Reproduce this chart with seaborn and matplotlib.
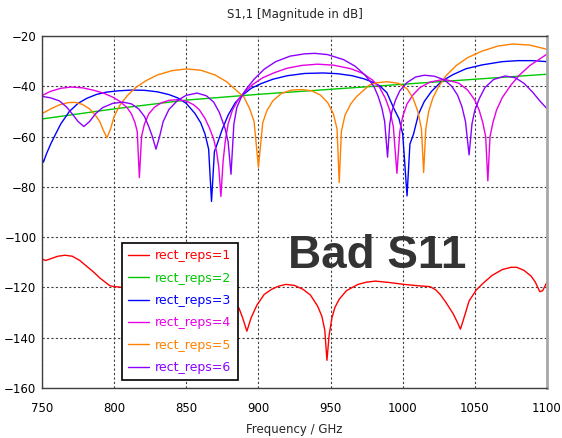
import pandas as pd
import seaborn as sns
import matplotlib.pyplot as plt

# frequency (GHz) / S11 (dB)
f_reps1 = [750, 752.5, 756, 761, 766, 771, 776, 781, 786, 790, 794, 797, 800, 803,
           810, 820, 830, 840, 850, 860, 870, 877, 882, 886.5, 889, 892, 895, 899,
           904, 909, 914, 919, 925, 931, 936, 941, 944, 946, 947.5, 949, 951, 953,
           956, 961, 969, 975, 981, 990, 1001, 1010, 1019, 1023, 1026, 1030, 1035,
           1038, 1040, 1042, 1046, 1051, 1056, 1062, 1069, 1075, 1079, 1084, 1089,
           1092, 1095, 1097, 1100]
s_reps1 = [-108.7, -109.3, -108.6, -107.6, -107.2, -107.6, -109.2, -111.6, -114, -116.2,
           -118, -119.3, -119.7, -119.8, -120.5, -119, -118, -118.5, -119.5, -121,
           -123.5, -125, -126.5, -128.2, -132, -137.4, -132, -127, -122.8, -120.8,
           -119.5, -118.8, -119.2, -120.8, -123, -127.4, -131.5, -137, -149, -139,
           -132, -128, -124.7, -121.3, -118.8, -117.9, -117.5, -118, -118.8, -119.3,
           -119.7, -121, -122.8, -126, -130.5, -134, -136.6, -133, -125.4, -121,
           -118.2, -115.2, -112.9, -112, -112, -113.2, -115.5, -118, -121.7, -121.3,
           -117.9]

f_reps2 = [750, 800, 850, 900, 950, 1000, 1050, 1100]
s_reps2 = [-53, -49, -45.5, -43.2, -41.2, -39.2, -37.2, -35.2]

f_reps3 = [750, 751, 753, 756, 759, 763, 769, 775, 781, 788, 795, 803, 812, 821, 830,
           838, 844, 850, 856, 860, 863, 865.5, 867.5, 869.5, 872, 875, 879, 884, 889,
           895, 902, 910, 920, 932, 945, 955, 965, 973, 979, 984, 989, 994, 997.5,
           1000, 1003, 1005, 1007.5, 1011, 1015, 1020, 1027, 1035, 1044, 1055, 1069,
           1080, 1090, 1100]
s_reps3 = [-68.6, -70.2, -67, -63, -59.5, -55, -50, -46.8, -44.8, -43.2, -42.3, -41.8,
           -41.5, -41.6, -42.2, -43.3, -44.6, -46.8, -50.8, -54.5, -59, -65, -85.8, -66,
           -62, -57, -51.5, -46.5, -43.5, -40.8, -38.9, -37.2, -35.8, -34.9, -34.7, -35,
           -35.8, -37, -38.3, -39.8, -42.5, -49, -53, -59, -83.6, -63, -59, -51, -46,
           -42, -38, -35.3, -33, -31.5, -30.2, -29.8, -29.8, -30.2]

f_reps4 = [750, 756, 763, 770, 778, 786, 793, 799, 804, 809, 812, 814.5, 816, 817.5,
           819, 821, 824, 828, 833, 838, 844, 850, 855, 859, 863, 866, 869, 871, 872.5,
           874, 875.5, 877, 879, 882, 886, 890, 896, 903, 911, 920, 930, 941, 952, 964,
           972, 979, 984, 988, 991, 993.5, 996, 998, 1000, 1003, 1007, 1012, 1019, 1029,
           1039, 1045, 1050, 1053, 1055.5, 1057.5, 1059, 1060.5, 1062.5, 1065, 1069,
           1075, 1081, 1088, 1094, 1100]
s_reps4 = [-43.7, -42, -40.8, -40.3, -40.6, -41.6, -42.8, -44.3, -46, -48.5, -51, -54.5,
           -58, -76.3, -60, -55, -51, -48.3, -46.5, -45.6, -45.3, -45.9, -47.3, -49.3,
           -52.8, -56.5, -61, -66, -72, -83.8, -70, -62, -55, -49.5, -45.3, -42.5, -39.3,
           -36.6, -34.6, -32.8, -31.7, -31.2, -31.6, -33, -34.8, -37.5, -40.5, -44.8,
           -49.5, -56, -74.6, -58, -52, -47, -43.5, -40.5, -38.3, -37.2, -38.8, -41.5,
           -45.5, -49.5, -54.5, -60, -77.6, -60, -54.5, -49.5, -44.5, -39.5, -35.5,
           -31.8, -29.5, -27.2]

f_reps5 = [750, 756, 762, 768, 773, 778, 783, 787, 790, 792.5, 795, 797.5, 800, 804,
           809, 815, 822, 830, 840, 850, 860, 870, 878, 885, 890, 894, 897, 900, 903,
           906, 910, 916, 923, 930, 937, 943, 948, 952, 954.5, 956, 957.5, 960, 964,
           968, 977, 982, 989, 997, 1003, 1007, 1010.5, 1013, 1014.5, 1016, 1018, 1021,
           1025, 1030, 1037, 1045, 1055, 1066, 1076, 1088, 1100]
s_reps5 = [-50.9, -49, -47.4, -46.5, -46.4, -47.2, -49, -51.5, -54, -57.5, -60.5, -57,
           -52, -47.5, -43.8, -40.5, -37.8, -35.5, -33.8, -33.1, -33.6, -35.5, -38.2,
           -41.8, -44.3, -49, -54, -72.2, -54.5, -49.5, -45.8, -42.8, -41.5, -41.3,
           -41.8, -43.5, -46.5, -51, -57, -78.3, -58, -51.5, -47, -44.1, -39.5, -38.6,
           -38.2, -38.8, -41, -44.5, -50, -57, -74.3, -57, -50, -44.5, -40, -35.8,
           -31.8, -28.6, -26, -24, -23.2, -23.6, -25.3]

f_reps6 = [750, 756, 762, 767, 771, 775, 779, 783, 787, 792, 799, 806, 812, 817, 821,
           824, 826.5, 829, 831.5, 834, 838, 844, 850, 857.5, 864, 869, 873, 877, 879,
           881, 883, 885, 888, 891, 897, 904, 912, 922, 932, 939, 948, 959, 967, 974,
           980, 983, 985.5, 987.5, 989.5, 991, 992.5, 995, 998, 1003, 1009, 1015, 1022,
           1029, 1034, 1038, 1041, 1043.5, 1046, 1048, 1050, 1053, 1057, 1063, 1071,
           1078, 1084, 1090, 1095, 1100]
s_reps6 = [-44, -44.6, -45.8, -48.2, -51, -54, -56, -54, -51, -48.5, -46.8, -46.3, -47,
           -49, -52, -56, -60, -65, -60, -54, -49.2, -45.6, -43.6, -42.7, -43.8, -46.3,
           -50.5, -57, -62, -75, -55, -48.5, -44.5, -41.5, -37.2, -33.2, -30.2, -28,
           -27.1, -26.9, -27.4, -29.4, -32, -35.6, -40, -44, -48.5, -54, -68.2, -55, -50,
           -45.5, -41.8, -38.5, -36.3, -35.6, -36, -37.5, -40, -43.5, -48, -54, -67.3,
           -55, -49.5, -45, -40.5, -37.3, -35.9, -36.6, -38.8, -42.3, -45.8, -48.9]

labels = ['rect_reps=1', 'rect_reps=2', 'rect_reps=3',
          'rect_reps=4', 'rect_reps=5', 'rect_reps=6']
colors = ['#ff0000', '#00c800', '#0000ff', '#e600e6', '#ff8000', '#8c00ff']

freqs = [f_reps1, f_reps2, f_reps3, f_reps4, f_reps5, f_reps6]
s11 = [s_reps1, s_reps2, s_reps3, s_reps4, s_reps5, s_reps6]

frames = []
for lab, f, s in zip(labels, freqs, s11):
    frames.append(pd.DataFrame({'freq': f, 's11': s, 'run': lab}))
df = pd.concat(frames, ignore_index=True)

sns.set_theme(style="white")
plt.rcParams['font.family'] = ['DejaVu Sans']

fig = plt.figure(figsize=(5.62, 4.38), dpi=100)
ax = fig.add_axes([0.0747, 0.1142, 0.8986, 0.8036])

sns.lineplot(data=df, x='freq', y='s11', hue='run', hue_order=labels,
             palette=dict(zip(labels, colors)), estimator=None, sort=False,
             linewidth=1.0, ax=ax)

ax.set_xlim(750, 1100)
ax.set_ylim(-160, -20)
ax.set_xticks(range(750, 1101, 50))
ax.set_yticks(range(-160, -19, 20))
ax.grid(True, linestyle=(0, (2, 2)), color='#404040', linewidth=0.8)
ax.tick_params(axis='y', length=0, labelsize=8.5, colors='black', pad=4)
ax.tick_params(axis='x', length=0, labelsize=8.5, colors='black', pad=10)

for side in ['left', 'bottom', 'top']:
    ax.spines[side].set_color('#404040')
    ax.spines[side].set_linewidth(1)
ax.spines['right'].set_color('#a8a8a8')
ax.spines['right'].set_linewidth(2)

ax.set_title('S1,1 [Magnitude in dB]', fontsize=8.5, pad=13)
ax.set_xlabel('Frequency / GHz', fontsize=8.5, labelpad=6)
ax.set_ylabel('')

ax.text(982, -107.5, 'Bad S11', fontsize=33, fontweight='bold', color='#333333',
        family='Liberation Sans', ha='center', va='center')

leg = ax.legend(loc='upper left', bbox_to_anchor=(0.158, 0.412), borderaxespad=0,
                fontsize=9, frameon=True, fancybox=False, framealpha=1,
                edgecolor='black', handlelength=1.7, labelspacing=0.75,
                borderpad=0.5, handletextpad=0.45)
leg.get_frame().set_linewidth(1.2)
for txt, c in zip(leg.get_texts(), colors):
    txt.set_color(c)

plt.savefig('out.png', dpi=100)
